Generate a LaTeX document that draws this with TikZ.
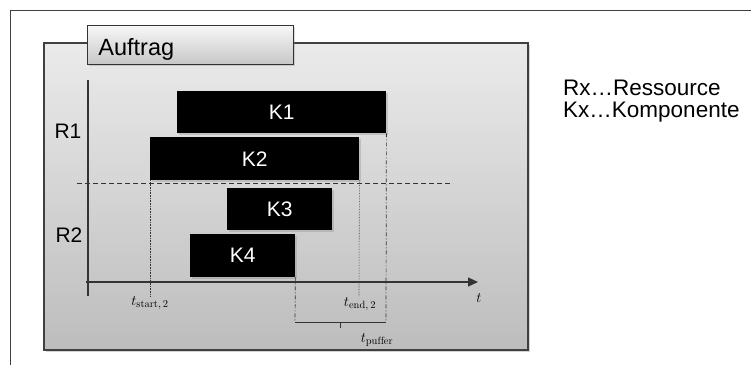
\documentclass[tikz,border=0pt]{standalone}
\usepackage{fontspec}
\usepackage{tikz}
\usetikzlibrary{positioning,arrows.meta,shadows,calc}
\newfontfamily\arial{Liberation Sans}

\begin{document}
\begin{tikzpicture}[
  x=1pt, y=-1pt,
  font=\arial\fontsize{21}{24}\selectfont,
  every node/.style={align=center},
  frame/.style={draw=black!75, line width=0.8pt},
  order/.style={draw=black!75, line width=1.1pt, top color=black!8, bottom color=black!26,
    drop shadow={shadow xshift=2pt, shadow yshift=-2pt, opacity=0.35}},
  tab/.style={draw=black!80, line width=0.8pt, top color=black!3, bottom color=black!22,
    font=\arial\fontsize{23.5}{24}\selectfont, text height=21pt, text depth=0pt,
    minimum height=39pt, inner xsep=11pt, inner ysep=0pt, anchor=north west, text width=184pt, align=left,
    drop shadow={shadow xshift=1.5pt, shadow yshift=-1.5pt, opacity=0.3}},
  comp/.style={fill=black, text=white, inner sep=0pt, anchor=north west,
    drop shadow={shadow xshift=1.5pt, shadow yshift=-1.5pt, opacity=0.3}},
  axis/.style={draw=black!80, line width=1.2pt},
  tlabel/.style={font=\fontsize{15}{16}\selectfont, inner sep=0pt},
  legendline/.style={anchor=base west, inner sep=0pt, font=\arial\fontsize{22.5}{22}\selectfont},
  guide/.style={black!80, line width=0.6pt, densely dotted},
  buffer/.style={black!80, line width=0.7pt, dash pattern=on 4pt off 2pt on 1pt off 2pt}
]
\useasboundingbox (0,0) rectangle (751,365);

% outer frame
\draw[frame] (751,10) -- (10,10) -- (10,365);

% order box and its tab
\path[order] (44,43) rectangle (528,350);
\node[tab] (auftrag) at (87,25) {Auftrag};

% axes
\coordinate (yTop) at (88,80);
\coordinate (yBot) at (88,296);
\coordinate (xStart) at (86,282);
\coordinate (xEnd) at (478,282);
\draw[axis] (yTop) -- (yBot);
\draw[axis, -{Triangle[length=10pt,width=9pt]}] (xStart) -- (xEnd);
\node[tlabel] (tAxis) at (479,298) {$t$};

% split between resources
\coordinate (sepL) at (77,183);
\coordinate (sepR) at (453,183);
\draw[black!80, line width=0.7pt, dash pattern=on 5pt off 3pt] (sepL) -- (sepR);
\node (r1) at (68,131) {R1};
\node (r2) at (69,235) {R2};

% components
\node[comp, minimum width=209pt, minimum height=42pt] (k1) at (177,91) {K1};
\node[comp, minimum width=209pt, minimum height=43pt] (k2) at (150,137) {K2};
\node[comp, minimum width=105pt, minimum height=42pt] (k3) at (227,188) {K3};
\node[comp, minimum width=105pt, minimum height=43pt] (k4) at (190,234) {K4};

% start and end of K2
\coordinate (tsEnd) at (150,297);
\coordinate (teEnd) at (359,297);
\draw[guide] (k2.south west) -- (tsEnd);
\draw[guide] (k2.south east) -- (teEnd);
\node[tlabel] (tStart) at (150,303) {$t_{\mathrm{start,\,2}}$};
\node[tlabel] (tEndLbl) at (360,304) {$t_{\mathrm{end,\,2}}$};

% buffer between K4 and K1
\coordinate (bufL) at (295,322);
\coordinate (bufR) at (386,322);
\coordinate (bufMid) at (340,322);
\coordinate (bufTick) at (340,328);
\draw[buffer] (k4.south east) -- (bufL);
\draw[buffer] (k1.south east) -- (bufR);
\draw[black!80, line width=0.9pt] (bufL) -- (bufR);
\draw[black!80, line width=0.9pt] (bufMid) -- (bufTick);
\node[tlabel] (tPuffer) at (377,340) {$t_{\mathrm{puffer}}$};

% legend
\node[legendline] (legR) at (563,95) {Rx\ldots Ressource};
\node[legendline] (legK) at (563,117) {Kx\ldots Komponente};
\end{tikzpicture}
\end{document}
